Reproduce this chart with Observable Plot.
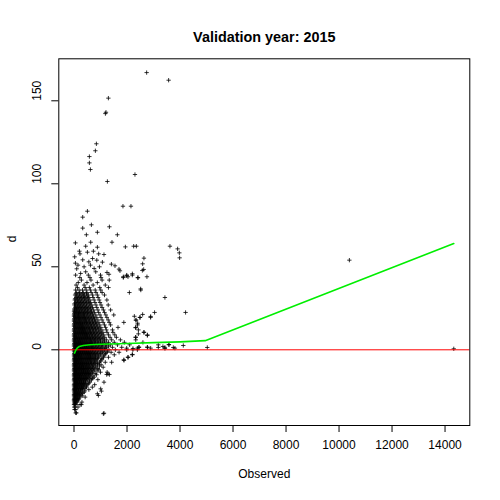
<!DOCTYPE html>
<html><head><meta charset="utf-8">
<script src="https://cdn.jsdelivr.net/npm/d3@7"></script>
<script src="https://cdn.jsdelivr.net/npm/@observablehq/plot@0.6"></script>
<style>body{margin:0;background:#fff}</style>
</head><body><div id="chart"></div>
<script>
const title = "Validation year: 2015";
const xLabel = "Observed";
const yLabel = "d";
const xTicks = [0, 2000, 4000, 6000, 8000, 10000, 12000, 14000];
const yTicks = [0, 50, 100, 150];

// dense cloud, read row by row: [d, [Observed values...]]
const cloudRows = [
  [-36, [20, 60]],
  [-34.5, [10, 40, 150]],
  [-33, [0, 30, 70, 230]],
  [-31.5, [10, 50, 110, 300]],
  [-30, [0, 40, 90, 170]],
  [-28.5, [20, 60, 130, 210, 420]],
  [-27, [0, 40, 100, 170, 260]],
  [-25.5, [10, 60, 120, 200, 290, 380]],
  [-24, [0, 40, 90, 160, 240, 330, 560]],
  [-22.5, [20, 70, 130, 210, 280, 360, 470, 690]],
  [-21, [0, 50, 100, 170, 250, 320, 400, 520, 780]],
  [-19.5, [30, 80, 140, 210, 280, 360, 440, 600]],
  [-18, [0, 60, 110, 180, 250, 330, 410, 500, 660, 900]],
  [-16.5, [20, 80, 140, 210, 280, 360, 440, 520, 610, 760]],
  [-15, [0, 50, 110, 170, 240, 310, 390, 460, 550, 640, 850]],
  [-13.5, [30, 90, 150, 220, 290, 360, 430, 510, 590, 700, 1000, 1250]],
  [-12, [0, 60, 120, 190, 260, 330, 400, 480, 560, 660, 780, 940]],
  [-10.5, [20, 80, 150, 220, 290, 360, 440, 520, 600, 700, 830, 1100]],
  [-9, [0, 50, 110, 180, 250, 320, 390, 470, 550, 640, 740, 880, 1020]],
  [-7.5, [30, 90, 160, 230, 300, 370, 450, 530, 620, 720, 820, 960, 1180, 1420]],
  [-6, [0, 60, 130, 200, 270, 340, 420, 500, 580, 670, 770, 870, 1050, 1880]],
  [-4.5, [20, 90, 160, 230, 300, 380, 460, 540, 620, 710, 810, 930, 1120, 1300, 2040]],
  [-3, [0, 60, 130, 200, 270, 340, 420, 500, 580, 670, 760, 860, 990, 1160, 1520, 2200]],
  [-1.5, [30, 100, 170, 240, 310, 390, 470, 550, 630, 720, 820, 940, 1080, 1240, 1400, 1700]],
  [0, [0, 70, 140, 210, 280, 360, 440, 520, 600, 690, 790, 900, 1010, 1150, 1320, 1560, 1990, 2220, 2390]],
  [1.5, [40, 110, 180, 250, 320, 400, 480, 560, 650, 740, 840, 950, 1080, 1230, 1450, 1800, 2450, 2770, 3430]],
  [3, [0, 70, 140, 210, 290, 370, 450, 530, 610, 700, 800, 910, 1040, 1190, 1370, 1640, 2100, 3180, 3580]],
  [4.5, [30, 100, 170, 250, 330, 410, 490, 570, 660, 760, 870, 990, 1130, 1300, 1520, 1900, 2600]],
  [6, [0, 60, 140, 210, 290, 370, 450, 530, 620, 710, 810, 930, 1060, 1220, 1420, 1750, 2330]],
  [7.5, [30, 100, 180, 260, 340, 420, 500, 590, 680, 780, 890, 1010, 1160, 1360, 1600, 2330]],
  [9, [0, 70, 150, 230, 310, 390, 470, 560, 650, 750, 860, 980, 1120, 1300, 1540, 2770]],
  [10.5, [40, 120, 200, 280, 360, 440, 530, 620, 720, 830, 950, 1090, 1250, 1470, 2640]],
  [12, [0, 80, 160, 240, 320, 400, 490, 580, 680, 790, 910, 1050, 1220, 1450, 2430]],
  [13.5, [40, 120, 200, 280, 360, 450, 540, 640, 750, 870, 1010, 1190, 1660, 2330]],
  [15, [0, 80, 160, 240, 320, 410, 500, 600, 710, 830, 970, 1150, 1380, 2400]],
  [16.5, [40, 120, 200, 290, 380, 470, 570, 680, 800, 940, 1100, 1330, 1880]],
  [18, [0, 80, 160, 250, 340, 430, 530, 640, 760, 900, 1060, 1290, 2340]],
  [19.5, [40, 120, 210, 300, 390, 490, 600, 720, 860, 1020, 1240, 2490, 2890]],
  [21, [0, 80, 170, 260, 350, 450, 560, 680, 820, 980, 1200, 1500]],
  [22.5, [30, 120, 210, 300, 400, 510, 630, 770, 930, 1150, 3040, 4210]],
  [24, [10, 90, 180, 270, 370, 480, 600, 740, 900, 1110, 1380]],
  [25.5, [50, 140, 230, 330, 440, 560, 700, 860, 1060]],
  [27, [20, 110, 200, 300, 410, 530, 670, 830, 1020, 1290]],
  [28.5, [60, 160, 260, 370, 490, 630, 790, 980]],
  [30, [30, 130, 230, 340, 460, 600, 760, 950, 1240]],
  [31.5, [80, 190, 300, 420, 560, 720, 910, 3430]],
  [33, [40, 150, 270, 400, 540, 700, 880, 1150]],
  [34.5, [100, 220, 350, 490, 650, 830, 1060, 2090]],
  [36, [60, 190, 320, 460, 620, 800, 1010, 2520]],
  [37.5, [130, 420, 580, 970, 1300]],
  [39, [80, 380, 720, 1180]],
  [40.5, [160, 490, 880]],
  [42, [280, 640, 1060, 1330]],
  [43.5, [220, 600, 1020, 1860, 2410]],
  [45, [60, 540, 1000, 2200, 1990]]
];

// in-between rows of the same dense cloud
const cloudRows2 = [
  [-32.25, [20, 60]],
  [-30.75, [0, 30, 80, 140]],
  [-29.25, [10, 50, 110, 190]],
  [-27.75, [0, 30, 80, 150, 230, 310]],
  [-26.25, [20, 70, 130, 210, 330]],
  [-24.75, [0, 40, 100, 170, 250, 410]],
  [-23.25, [10, 50, 110, 180, 260, 320, 420]],
  [-21.75, [0, 40, 90, 150, 220, 290, 370, 460]],
  [-20.25, [20, 70, 130, 190, 260, 340, 420, 540]],
  [-18.75, [0, 40, 90, 150, 220, 290, 370, 450, 580]],
  [-17.25, [10, 50, 110, 170, 240, 310, 390, 470, 560, 700]],
  [-15.75, [0, 30, 80, 140, 210, 270, 340, 420, 500, 590, 720]],
  [-14.25, [10, 60, 120, 180, 250, 320, 400, 470, 550, 640, 800]],
  [-12.75, [0, 30, 90, 150, 220, 290, 360, 440, 520, 610, 720, 870]],
  [-11.25, [10, 50, 110, 170, 240, 310, 380, 460, 540, 630, 740, 900]],
  [-9.75, [0, 30, 80, 140, 210, 280, 350, 420, 500, 590, 690, 800, 960]],
  [-8.25, [10, 60, 120, 190, 260, 330, 410, 490, 570, 660, 770, 900]],
  [-6.75, [0, 40, 100, 160, 230, 300, 380, 460, 540, 630, 720, 830, 1000]],
  [-5.25, [10, 60, 120, 190, 260, 340, 420, 500, 580, 670, 760, 880, 1050]],
  [-3.75, [0, 40, 100, 170, 230, 300, 380, 460, 540, 620, 720, 820, 940, 1100]],
  [-2.25, [10, 60, 130, 200, 270, 350, 430, 510, 590, 680, 780, 890, 1020, 1190]],
  [-0.75, [0, 40, 100, 170, 240, 320, 400, 480, 560, 650, 750, 860, 980, 1100, 1260]],
  [0.75, [10, 70, 140, 210, 290, 360, 440, 520, 610, 700, 800, 910, 1030, 1180]],
  [2.25, [0, 40, 100, 170, 250, 320, 400, 480, 570, 660, 760, 870, 990, 1130, 1300]],
  [3.75, [10, 70, 140, 210, 290, 370, 450, 530, 620, 710, 820, 940, 1070, 1240]],
  [5.25, [0, 40, 110, 180, 250, 330, 410, 490, 580, 670, 770, 880, 1000, 1150]],
  [6.75, [10, 70, 140, 220, 300, 380, 460, 540, 630, 730, 840, 960, 1100]],
  [8.25, [0, 40, 110, 190, 270, 350, 430, 510, 600, 700, 810, 930, 1060]],
  [9.75, [10, 80, 160, 240, 320, 400, 480, 570, 670, 780, 900, 1030]],
  [11.25, [0, 40, 120, 200, 280, 360, 440, 530, 630, 740, 860, 990]],
  [12.75, [10, 80, 160, 240, 320, 400, 490, 590, 700, 810, 940]],
  [14.25, [0, 40, 120, 200, 280, 370, 460, 560, 660, 780, 900]],
  [15.75, [10, 80, 160, 240, 330, 420, 520, 620, 740, 860]],
  [17.25, [0, 40, 120, 210, 300, 390, 480, 580, 700, 820]],
  [18.75, [10, 80, 170, 260, 350, 440, 540, 650, 770]],
  [20.25, [0, 40, 130, 220, 310, 400, 500, 610, 730]],
  [21.75, [10, 80, 170, 260, 360, 460, 570, 690]],
  [23.25, [0, 50, 140, 230, 330, 430, 540, 660]],
  [24.75, [20, 100, 190, 290, 400, 510, 630]],
  [26.25, [60, 160, 260, 370, 480, 610]],
  [27.75, [20, 120, 230, 340, 460, 590]],
  [29.25, [80, 190, 300, 420, 550]],
  [30.75, [40, 150, 270, 390, 520]],
  [32.25, [110, 230, 360, 500]],
  [33.75, [70, 200, 330, 470]]
];

// sparse points read individually
const outX = [53, 26, 53, 102, 204, 226, 328, 328, 505, 656, 1335, 882, 467, 1636, 630, 1433, 441, 882, 1938, 2251,
  2352, 3620, 3910, 3974, 3985, 505, 731, 931, 1131, 328, 1071, 1410, 1546, 2590, 2639, 2628, 1244, 1320, 1697, 1734,
  1862, 1987, 2036, 2202, 2413, 2579, 2752, 2515, 1847, 2149, 1259, 2300, 618, 580, 580, 806, 844, 1206, 1184, 1297,
  2741, 3570, 380, 560, 620, 700, 760, 820, 960, 440, 250, 150, 860, 10390, 14330,
  1885, 2036, 2202, 2326, 2428, 2639, 2767, 2277, 2337, 2401, 2326, 2892, 2590, 2488,
  2767, 2892, 3182, 3355, 3431, 3582, 3747, 3808, 4124, 5029, 1987, 2224, 2390, 2451,
  1131, 90, 279, 920, 1033, 1131, 1282, 1233, 1335, 1006, 882, 64, 1108];
const outY = [64.4, 56, 52.2, 48.8, 59.4, 57.8, 79.9, 73.3, 83.5, 75.3, 74.1, 70.8, 69.3, 69.3, 64.8, 64.8, 62.4, 61.8, 62, 62.4,
  62.4, 62.4, 60.8, 58.4, 55.4, 58.8, 59.4, 57.8, 57.4, 54.2, 52.8, 51.6, 50.6, 51.8, 55.2, 48.4, 46.6, 45.5, 48.6, 47.6,
  44, 44.6, 44, 45.8, 43.4, 47.8, 44, 36.7, 86.5, 86.5, 101.4, 105.6, 108.6, 112.6, 116.4, 119.9, 124.1, 143.1, 142.3, 151.6,
  167, 162.4, 50, 53, 51, 55, 49, 47, 50, 47, 46, 51, 54, 54, 0.6,
  -6.4, -4.5, -2.8, 7.6, 9.6, 10.6, 8.6, 20.2, 17.8, 16, 13.3, 20.1, 21.3, 19.5,
  1.6, 1, 1.4, 2, 0.8, 3.2, 1.4, 1, 2.6, 1.4, 1, 0.8, 1, 1.6,
  -38.2, -38, -33, -27.5, -24.9, -19.5, -14.5, -14.9, -14.9, -23.5, -26.5, -38, -38.5];

// lowess curve (green)
const lowX = [20, 60, 120, 200, 350, 600, 1000, 2000, 3000, 4000, 4950, 14330];
const lowY = [-2, -0.5, 1, 2, 2.6, 3.0, 3.3, 3.8, 4.3, 4.8, 5.5, 64];

const points = [];
for (const [d, xs] of cloudRows.concat(cloudRows2)) for (const o of xs) points.push({observed: o, d});
outX.forEach((o, i) => points.push({observed: o, d: outY[i]}));
const lowess = lowX.map((o, i) => ({observed: o, d: lowY[i]}));

const font = "'Liberation Sans', Arial, Helvetica, sans-serif";
const chart = Plot.plot({
  width: 500, height: 500,
  marginLeft: 58.3, marginRight: 30.7, marginTop: 58.3, marginBottom: 75,
  style: {fontFamily: font, fontSize: "12px", background: "#fff", color: "#000"},
  x: {domain: [-574, 14934], axis: null},
  y: {domain: [-45.6, 175.3], axis: null},
  marks: [
    Plot.dot(points, {x: "observed", y: "d", symbol: "plus", r: 1.5, stroke: "#000", strokeWidth: 0.8}),
    Plot.ruleY([0], {stroke: "#ff0000", strokeWidth: 1}),
    Plot.line(lowess, {x: "observed", y: "d", stroke: "#00ee00", strokeWidth: 1.6}),
    Plot.frame({stroke: "#000", strokeWidth: 1}),
    Plot.axisX({ticks: xTicks, tickSize: 7, tickFormat: () => "", label: null}),
    Plot.axisY({ticks: yTicks, tickSize: 7, tickFormat: () => "", label: null}),
    Plot.text(xTicks, {x: d => d, text: d => String(d), frameAnchor: "bottom", dy: 23, fontSize: 12}),
    Plot.text(yTicks, {y: d => d, text: d => String(d), frameAnchor: "left", dx: -22, rotate: -90, fontSize: 12}),
    Plot.text([xLabel], {text: d => d, frameAnchor: "bottom", dy: 52, fontSize: 12}),
    Plot.text([yLabel], {text: d => d, frameAnchor: "left", dx: -47, rotate: -90, fontSize: 12}),
    Plot.text([title], {text: d => d, frameAnchor: "top", dy: -27, fontSize: 14.4, fontWeight: "bold"})
  ]
});
document.getElementById("chart").appendChild(chart);
</script>
</body></html>
